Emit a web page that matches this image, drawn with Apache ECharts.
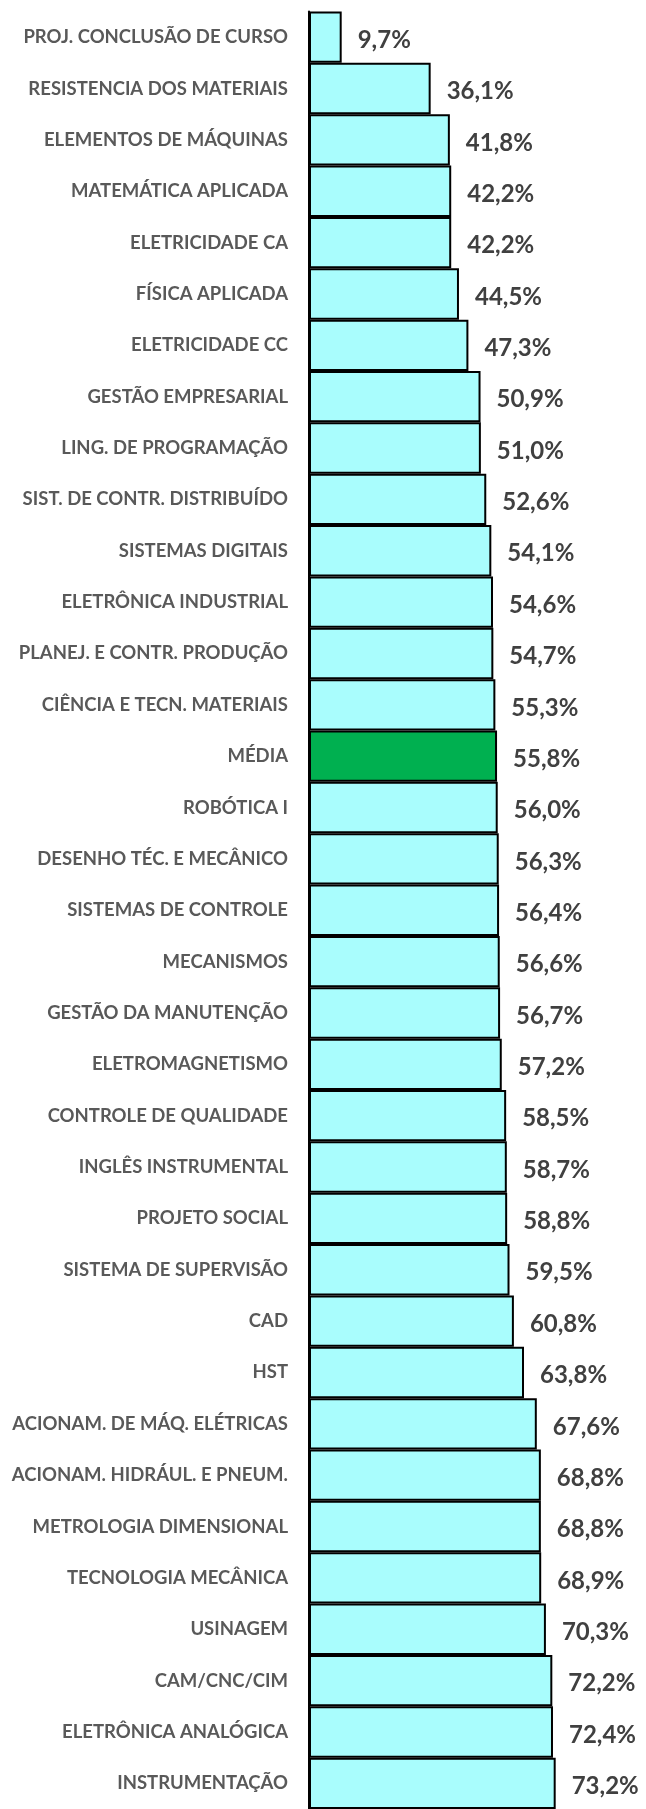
<!DOCTYPE html>
<html><head><meta charset="utf-8">
<script src="https://cdn.jsdelivr.net/npm/echarts@6/dist/echarts.min.js"></script>
<style>html,body{margin:0;padding:0;background:#fff}#c{width:646px;height:1809px}</style>
</head><body><div id="c"></div>
<script>
const categories = [
  'PROJ. CONCLUSÃO DE CURSO','RESISTENCIA DOS MATERIAIS','ELEMENTOS DE MÁQUINAS','MATEMÁTICA APLICADA',
  'ELETRICIDADE CA','FÍSICA APLICADA','ELETRICIDADE CC','GESTÃO EMPRESARIAL','LING. DE PROGRAMAÇÃO',
  'SIST. DE CONTR. DISTRIBUÍDO','SISTEMAS DIGITAIS','ELETRÔNICA INDUSTRIAL','PLANEJ. E CONTR. PRODUÇÃO',
  'CIÊNCIA E TECN. MATERIAIS','MÉDIA','ROBÓTICA I','DESENHO TÉC. E MECÂNICO','SISTEMAS DE CONTROLE',
  'MECANISMOS','GESTÃO DA MANUTENÇÃO','ELETROMAGNETISMO','CONTROLE DE QUALIDADE','INGLÊS INSTRUMENTAL',
  'PROJETO SOCIAL','SISTEMA DE SUPERVISÃO','CAD','HST','ACIONAM. DE MÁQ. ELÉTRICAS',
  'ACIONAM. HIDRÁUL. E PNEUM.','METROLOGIA DIMENSIONAL','TECNOLOGIA MECÂNICA','USINAGEM',
  'CAM/CNC/CIM','ELETRÔNICA ANALÓGICA','INSTRUMENTAÇÃO'
];
const values = [
  9.7,36.1,41.8,42.2,42.2,44.5,47.3,50.9,51.0,52.6,54.1,54.6,54.7,55.3,55.8,56.0,56.3,56.4,56.6,56.7,
  57.2,58.5,58.7,58.8,59.5,60.8,63.8,67.6,68.8,68.8,68.9,70.3,72.2,72.4,73.2
];
const highlightCategory = 'MÉDIA';

const chart = echarts.init(document.getElementById('c'));
chart.setOption({
  animation: false,
  grid: { left: 309, top: 11.5, width: 350, height: 1803 },
  xAxis: { type: 'value', min: 0, max: 100, show: false },
  yAxis: {
    type: 'category', data: categories, inverse: true,
    axisLine: { show: true, lineStyle: { color: '#000', width: 2 } },
    axisTick: { show: false },
    axisLabel: { color: '#595959', fontFamily: 'Lato', fontWeight: 'bold', fontSize: 18.5, margin: 21 }
  },
  series: [{
    type: 'bar', barCategoryGap: 0,
    data: values.map((v, i) => ({
      value: v,
      itemStyle: { color: categories[i] === highlightCategory ? '#00B050' : '#A9FDFD' }
    })),
    itemStyle: { borderColor: '#000', borderWidth: 2 },
    label: {
      show: true, position: 'right', distance: 16, offset: [0, 3],
      color: '#404040', fontFamily: 'Lato', fontWeight: 'bold', fontSize: 24,
      formatter: p => p.value.toFixed(1).replace('.', ',') + '%'
    }
  }]
});
</script></body></html>
